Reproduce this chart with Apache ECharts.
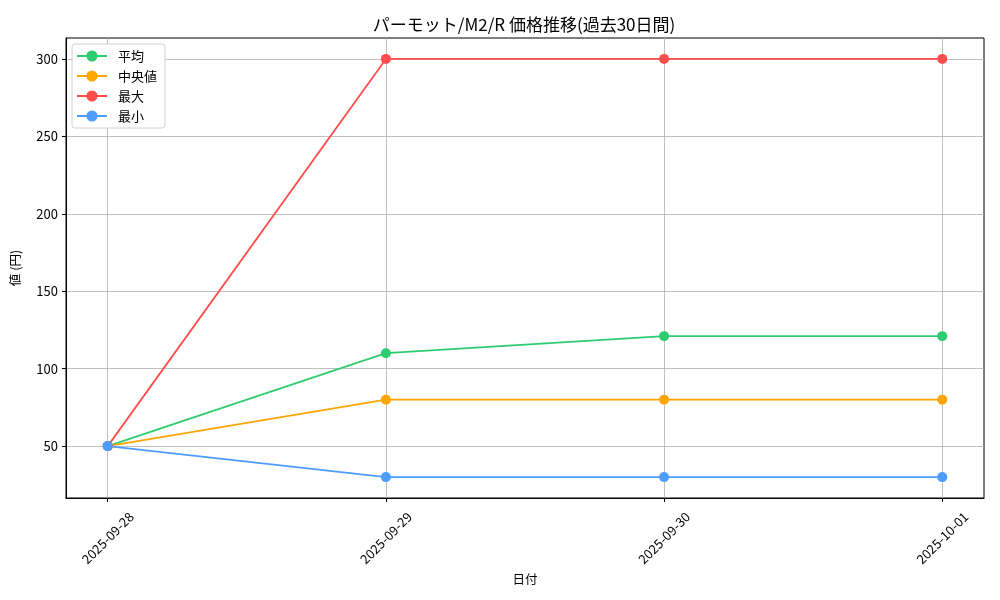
<!DOCTYPE html>
<html>
<head>
<meta charset="utf-8">
<script src="https://cdn.jsdelivr.net/npm/echarts@6/dist/echarts.min.js"></script>
<style>
  html, body { margin: 0; padding: 0; background: #fff; }
  #chart1 { width: 1000px; height: 600px; }
</style>
</head>
<body>
<div id="chart1"></div>
<script>
// data
var dates = ['2025-09-28', '2025-09-29', '2025-09-30', '2025-10-01'];
var avgValues = [50, 110, 121, 121];
var medianValues = [50, 80, 80, 80];
var maxValues = [50, 300, 300, 300];
var minValues = [50, 30, 30, 30];
var yTicks = [50, 100, 150, 200, 250, 300];

var font = '"Noto Sans CJK JP", "DejaVu Sans", sans-serif';

function pts(vals) {
    return vals.map(function (v, i) { return [i, v]; });
}

function lineSeries(name, vals, color) {
    return {
        name: name,
        type: 'line',
        data: pts(vals),
        symbol: 'circle',
        symbolSize: 10,
        lineStyle: {width: 1.8, color: color},
        itemStyle: {color: color},
        emphasis: {disabled: true},
        z: 3
    };
}

var chartDom = document.getElementById('chart1');
var myChart = echarts.init(chartDom);
var option;

option = {
    animation: false,
    textStyle: {fontFamily: font},
    title: {
        text: 'パーモット/M2/R 価格推移(過去30日間)',
        left: 519,
        top: 11,
        textAlign: 'center',
        textStyle: {fontFamily: font, fontSize: 17, fontWeight: 'normal', color: '#000'}
    },
    legend: {
        orient: 'vertical',
        left: 72,
        top: 44,
        padding: [5, 8, 5, 4],
        itemWidth: 30,
        itemHeight: 14,
        itemGap: 6,
        backgroundColor: '#fff',
        borderColor: '#d0d0d0',
        borderWidth: 1,
        borderRadius: 3,
        textStyle: {fontFamily: font, fontSize: 13, color: '#000', lineHeight: 14, padding: [0, 0, 0, 6]},
        data: ['平均', '中央値', '最大', '最小']
    },
    grid: {
        left: 66,
        right: 16,
        top: 38,
        bottom: 102,
        show: true,
        borderColor: '#000',
        borderWidth: 1
    },
    xAxis: {
        type: 'value',
        min: -0.15,
        max: 3.15,
        name: '日付',
        nameLocation: 'middle',
        nameGap: 75,
        nameTextStyle: {fontFamily: font, fontSize: 12.5, color: '#000'},
        axisLine: {show: true, onZero: false, lineStyle: {color: '#000', width: 1}},
        axisTick: {show: true, length: 4, lineStyle: {color: '#000'}, customValues: [0, 1, 2, 3]},
        axisLabel: {
            customValues: [0, 1, 2, 3],
            rotate: 45,
            fontSize: 13,
            color: '#000',
            align: 'center',
            verticalAlign: 'middle',
            margin: 40,
            formatter: function (v) { return dates[Math.round(v)]; }
        },
        splitLine: {show: true, lineStyle: {color: '#b0b0b0', width: 0.8}}
    },
    yAxis: {
        type: 'value',
        min: 16.5,
        max: 313.5,
        name: '値 (円)',
        nameLocation: 'middle',
        nameGap: 44,
        nameTextStyle: {fontFamily: font, fontSize: 12.5, color: '#000'},
        axisLine: {show: true, onZero: false, lineStyle: {color: '#000', width: 1}},
        axisTick: {show: true, length: 4, lineStyle: {color: '#000'}, customValues: yTicks},
        axisLabel: {customValues: yTicks, fontSize: 13, color: '#000', margin: 8},
        splitLine: {show: true, lineStyle: {color: '#b0b0b0', width: 0.8}}
    },
    series: [
        lineSeries('平均', avgValues, '#2ecc71'),
        lineSeries('中央値', medianValues, '#ffa502'),
        lineSeries('最大', maxValues, '#ff4d4d'),
        lineSeries('最小', minValues, '#4d9cff')
    ]
};

option && myChart.setOption(option);
</script>
</body>
</html>
